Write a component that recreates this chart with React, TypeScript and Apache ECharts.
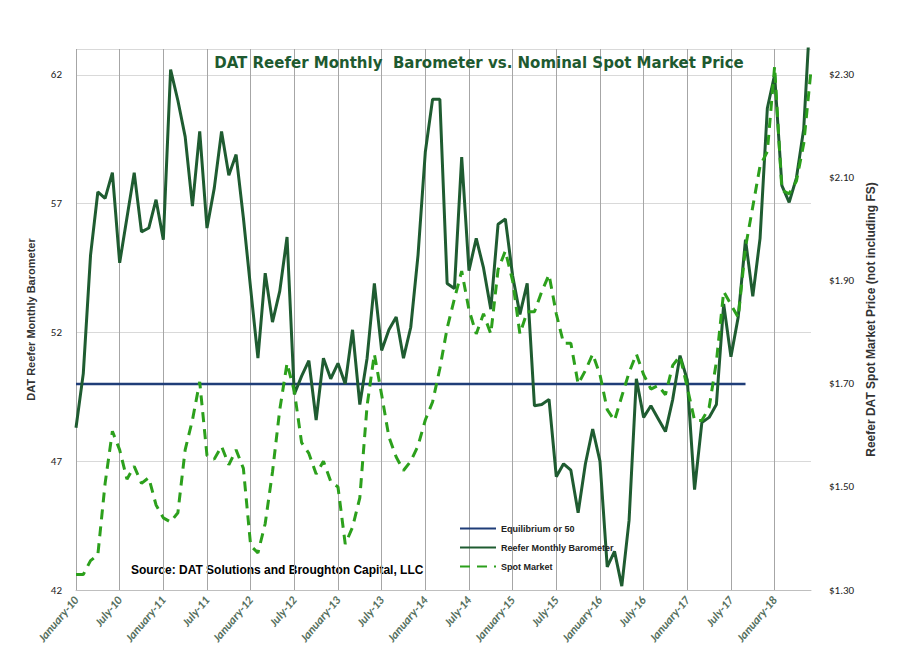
import React, { useEffect, useRef } from "react";
import * as echarts from "echarts";

const monthNames = ["January","February","March","April","May","June","July","August","September","October","November","December"];
const categories: string[] = [];
for (let i = 0; i < 102; i++) {
  const y = 10 + Math.floor(i / 12);
  categories.push(monthNames[i % 12] + "-" + y);
}

const barometer = [
  48.3, 50.4, 55.0, 57.45, 57.2, 58.2, 54.7, 56.45, 58.2, 55.9, 56.05, 57.15,
  55.6, 62.2, 61.0, 59.6, 56.9, 59.8, 56.05, 57.6, 59.8, 58.1, 58.9, 56.45,
  53.7, 51.0, 54.3, 52.4, 53.6, 55.7, 49.6, 50.3, 50.9, 48.6, 51.0, 50.2,
  50.8, 50.0, 52.1, 49.2, 51.0, 53.9, 51.3, 52.1, 52.6, 51.0, 52.2, 55.0,
  59.0, 61.05, 61.05, 53.9, 53.7, 58.8, 54.4, 55.65, 54.5, 52.9, 56.2, 56.4,
  54.2, 52.7, 53.9, 49.15, 49.2, 49.4, 46.4, 46.9, 46.65, 45.0, 46.9, 48.25,
  47.0, 42.9, 43.5, 42.15, 44.7, 50.2, 48.7, 49.15, 48.65, 48.15, 49.4, 51.1,
  50.15, 45.9, 48.5, 48.7, 49.2, 53.1, 51.05, 52.6, 55.6, 53.4, 55.65, 60.7,
  62.0, 57.7, 57.05, 58.0, 59.9, 65.0,
];

const spot = [
  1.33, 1.33, 1.357, 1.368, 1.507, 1.608, 1.572, 1.515, 1.54, 1.507, 1.518, 1.465,
  1.44, 1.432, 1.45, 1.572, 1.63, 1.704, 1.561, 1.554, 1.579, 1.543, 1.572, 1.536,
  1.386, 1.372, 1.429, 1.529, 1.65, 1.74, 1.686, 1.586, 1.565, 1.525, 1.55, 1.511,
  1.50, 1.389, 1.422, 1.479, 1.658, 1.758, 1.679, 1.597, 1.558, 1.532, 1.55, 1.58,
  1.63, 1.665, 1.73, 1.808, 1.865, 1.919, 1.844, 1.797, 1.836, 1.797, 1.922, 1.958,
  1.90, 1.797, 1.84, 1.84, 1.879, 1.912, 1.836, 1.779, 1.779, 1.70, 1.726, 1.758,
  1.718, 1.65, 1.629, 1.676, 1.722, 1.758, 1.718, 1.69, 1.697, 1.679, 1.736, 1.754,
  1.693, 1.629, 1.629, 1.654, 1.743, 1.879, 1.854, 1.829, 1.965, 2.044, 2.123, 2.151,
  2.316, 2.076, 2.069, 2.094, 2.166, 2.309,
];

const equilibriumValue = 50;
const equilibriumEnd = 92;

const LEFT_MIN = 42;
const RIGHT_MIN = 1.3;

export default function App() {
  const ref = useRef<HTMLDivElement>(null);
  useEffect(() => {
    const chart = echarts.init(ref.current!, undefined, { renderer: "svg" });
    const font = "Calibri, 'Liberation Sans', Arial, sans-serif";
    const eq = categories.map((_, i) => (i <= equilibriumEnd ? equilibriumValue - LEFT_MIN : null));
    chart.setOption({
      animation: false,
      textStyle: { fontFamily: font },
      grid: { left: 75, right: 99, top: 48, bottom: 70, containLabel: false },
      title: {
        text: "DAT Reefer Monthly  Barometer vs. Nominal Spot Market Price",
        left: 473, top: 49, textAlign: "center",
        textStyle: { color: "#1e5a30", fontSize: 15, fontWeight: "bold", fontFamily: "Verdana, 'DejaVu Sans', sans-serif" },
      },
      legend: {
        orient: "vertical", left: 453, top: 518, itemGap: 10, itemWidth: 36, itemHeight: 10,
        itemStyle: { opacity: 0 },
        textStyle: { fontSize: 9, color: "#222", fontFamily: "'Liberation Sans Narrow', 'Liberation Sans', sans-serif", fontWeight: "bold" },
        data: ["Equilibrium or 50", "Reefer Monthly Barometer", "Spot Market"],
      },
      graphic: [
        { type: "text", left: 130, top: 563, style: { text: "Source: DAT Solutions and Broughton Capital, LLC", fontSize: 12, fontWeight: "bold", fill: "#000", fontFamily: "'Liberation Sans Narrow', 'Liberation Sans', sans-serif" } },
      ],
      xAxis: {
        type: "category", data: categories, boundaryGap: false,
        axisLine: { lineStyle: { color: "#bfbfbf" } },
        axisTick: { show: false },
        axisLabel: { interval: 5, rotate: 50, color: "#56705e", fontSize: 12, fontStyle: "italic", fontWeight: "bold", margin: 8 },
        splitLine: { show: true, interval: 5, lineStyle: { color: "#a6a6a6", width: 1 } },
      },
      yAxis: [
        {
          type: "value", min: 0, max: 21, interval: 5,
          name: "DAT Reefer Monthly Barometer", nameLocation: "middle", nameGap: 40, nameRotate: 90,
          nameTextStyle: { fontSize: 11, color: "#333", fontWeight: "bold", fontFamily: "'Liberation Sans Narrow', 'Liberation Sans', sans-serif" },
          axisLine: { show: false }, axisTick: { show: false },
          axisLabel: { color: "#222", fontSize: 11, showMaxLabel: false, formatter: (v: number) => String(v + LEFT_MIN), margin: 14 },
          splitLine: { lineStyle: { color: "#d9d9d9" } },
        },
        {
          type: "value", min: 0, max: 1.05, interval: 0.2,
          name: "Reefer DAT Spot Market Price (not including FS)", nameLocation: "middle", nameGap: 52, nameRotate: 90,
          nameTextStyle: { fontSize: 12, color: "#333", fontWeight: "bold", fontFamily: "'Liberation Sans Narrow', 'Liberation Sans', sans-serif" },
          axisLine: { show: false }, axisTick: { show: false },
          axisLabel: { color: "#222", fontSize: 11, showMaxLabel: false, formatter: (v: number) => "$" + (v + RIGHT_MIN).toFixed(2), margin: 18 },
          splitLine: { show: false },
        },
      ],
      series: [
        {
          name: "Equilibrium or 50", type: "line", data: eq, symbol: "none", yAxisIndex: 0,
          lineStyle: { color: "#1f3d78", width: 2.5 }, itemStyle: { color: "#1f3d78" },
        },
        {
          name: "Reefer Monthly Barometer", type: "line", data: barometer.map((v) => v - LEFT_MIN), symbol: "none", yAxisIndex: 0, clip: true,
          lineStyle: { color: "#1f5c31", width: 3 }, itemStyle: { color: "#1f5c31" },
        },
        {
          name: "Spot Market", type: "line", data: spot.map((v) => +(v - RIGHT_MIN).toFixed(4)), symbol: "none", yAxisIndex: 1, clip: true,
          lineStyle: { color: "#2ca01c", width: 3, type: [10, 7] }, itemStyle: { color: "#2ca01c" },
        },
      ],
    });
    return () => chart.dispose();
  }, []);
  return (
    <div style={{ width: 911, height: 661, margin: -8, boxSizing: "border-box", border: "1px solid #d9d9d9", background: "#fff" }}>
      <div ref={ref} style={{ width: 909, height: 659 }} />
    </div>
  );
}
